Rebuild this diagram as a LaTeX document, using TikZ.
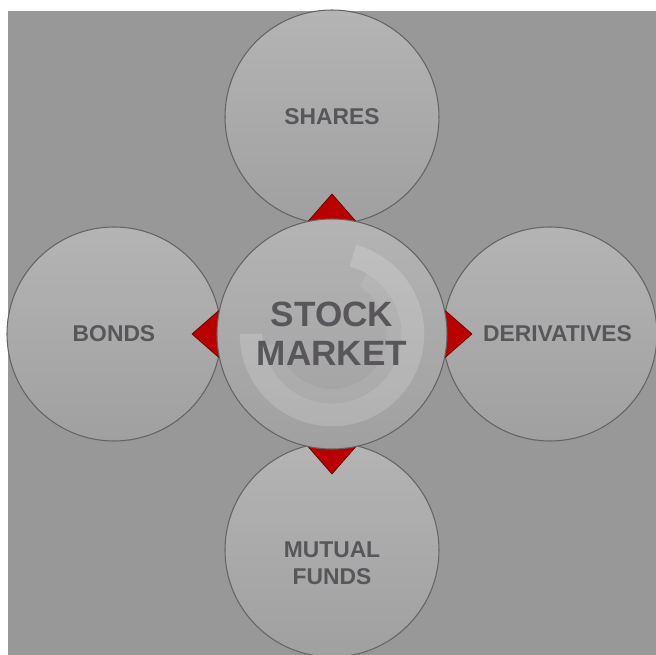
\documentclass[tikz,border=0pt]{standalone}
\usepackage{fontspec}
\setmainfont{Liberation Sans}
\usepackage{xcolor}
\usepackage{tikz}
\usetikzlibrary{positioning,calc}
\definecolor{bggray}{RGB}{152,152,152}
\definecolor{ballgray}{RGB}{180,180,180}
\definecolor{balldark}{RGB}{160,160,160}
\definecolor{rimgray}{RGB}{100,100,100}
\definecolor{labelgray}{RGB}{88,86,90}
\definecolor{pointred}{RGB}{184,0,0}

\begin{document}
\begin{tikzpicture}[
	ball/.style={circle,draw=rimgray,line width=0.6pt,top color=ballgray,bottom color=balldark,
		minimum size=4.28cm,inner sep=0pt,text=labelgray,align=center,
		font=\bfseries\fontsize{13}{15.5}\selectfont},
	hub/.style={ball,minimum size=4.6cm,font=\bfseries\fontsize{20}{22}\selectfont,
		path picture={\draw[ring] ($(path picture bounding box.center)+(75:1.62)$) arc (75:-180:1.62);
			\draw[ring,opacity=0.08,line width=0.3cm] ($(path picture bounding box.center)+(60:1.25)$) arc (60:-170:1.25);}},
	ring/.style={white,opacity=0.17,line width=0.45cm},
	pointer/.style={fill=pointred,draw=pointred!60!black,line width=0.4pt,line join=round}]
	\useasboundingbox (-6.64,-6.42) rectangle (6.48,6.68);
	\fill[bggray] (-6.48,-6.42) rectangle (6.48,6.46);
	% outer circles
	\node[ball] (shares) at (0,4.34) {SHARES};
	\node[ball] (bonds) at (-4.36,0) {BONDS};
	\node[ball] (derivatives) at (4.36,0) {\hspace{0.3cm}DERIVATIVES};
	\node[ball,text height=1.4cm] (funds) at (0,-4.32) {MUTUAL\\FUNDS};
	% red pointers
	\foreach \a in {0,90,180,270}
		\fill[pointer,rotate=\a] (2.16,0.56) -- (2.8,0) -- (2.16,-0.56) -- cycle;
	% centre
	\node[hub] (market) at (0,0) {STOCK\\MARKET};
\end{tikzpicture}
\end{document}
